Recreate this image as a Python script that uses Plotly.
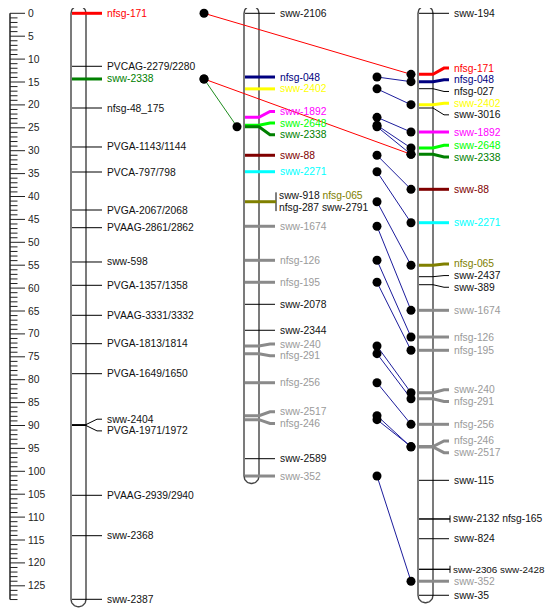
import numpy as np
import plotly.graph_objects as go

# ---------------- DATA (cM positions) ----------------
map1_markers = ["nfsg-171", "PVCAG-2279/2280", "sww-2338", "nfsg-48_175", "PVGA-1143/1144",
                "PVCA-797/798", "PVGA-2067/2068", "PVAAG-2861/2862", "sww-598", "PVGA-1357/1358",
                "PVAAG-3331/3332", "PVGA-1813/1814", "PVGA-1649/1650", "sww-2404", "PVGA-1971/1972",
                "PVAAG-2939/2940", "sww-2368", "sww-2387"]
map1_pos = [0.0, 11.57, 14.34, 20.68, 29.19, 34.65, 42.95, 46.81, 54.3, 59.39,
            65.94, 72.14, 78.69, 89.8, 90.0, 105.24, 114.06, 127.95]

map2_markers = ["sww-2106", "nfsg-048", "sww-2402", "sww-1892", "sww-2648", "sww-2338", "sww-88",
                "sww-2271", "sww-918", "nfsg-065", "nfsg-287", "sww-2791", "sww-1674", "nfsg-126",
                "nfsg-195", "sww-2078", "sww-2344", "sww-240", "nfsg-291", "nfsg-256", "sww-2517",
                "nfsg-246", "sww-2589", "sww-352"]
map2_pos = [0.0, 13.91, 16.5, 22.71, 24.45, 24.76, 31.0,
            34.59, 41.14, 41.14, 41.14, 41.14, 46.5, 53.93,
            58.73, 63.54, 69.21, 72.64, 74.32, 80.66, 87.86,
            88.73, 97.25, 101.03]

map3_markers = ["sww-194", "nfsg-171", "nfsg-048", "nfsg-027", "sww-2402", "sww-3016", "sww-1892",
                "sww-2648", "sww-2338", "sww-88", "sww-2271", "nfsg-065", "sww-2437", "sww-389",
                "sww-1674", "nfsg-126", "nfsg-195", "sww-240", "nfsg-291", "nfsg-256", "nfsg-246",
                "sww-2517", "sww-115", "sww-2132", "nfsg-165", "sww-824", "sww-2306", "sww-2428",
                "sww-352", "sww-35"]
map3_pos = [0.0, 13.32, 14.93, 16.46, 19.95, 20.68, 25.92,
            29.41, 30.79, 38.43, 45.72, 55.02, 57.51, 59.26,
            64.85, 70.68, 73.58, 82.84, 84.15, 89.74, 94.6,
            94.7, 101.97, 110.41, 110.41, 114.72, 121.4, 121.4,
            124.0, 127.07]

ruler_max = 128
ruler_major = 5

# ---------------- STYLE / LAYOUT ----------------
highlight = {
    "nfsg-171": "#FF0000", "sww-2338": "#008000", "nfsg-048": "#000080",
    "sww-2402": "#FFFF00", "sww-1892": "#FF00FF", "sww-2648": "#00FF00",
    "sww-88": "#800000", "sww-2271": "#00FFFF", "nfsg-065": "#808000",
}
shared_line = "#8a8a8a"
shared_text = "#9a9a9a"
K = 4.58          # px per cM
Y0 = 13.3         # page px of 0 cM
W, H = 553, 609   # page size
OFF = 8           # page body margin
RIGHT_LIMIT = 544 # last visible page px for text
chrom_left = [71, 244, 418]
chrom_w = 15
dot_right_off = 118
dot_left_off = -7
gap = 2.55        # label spacing in cM
FONT = "Liberation Sans, Arial, sans-serif"
FS = 10.3

# approximate Arial advance widths (em) for fitting text
CHAR_W = {"s": .5, "w": .722, "n": .556, "f": .278, "g": .556, "-": .333, " ": .278,
          "P": .667, "V": .667, "A": .667, "G": .778, "C": .722, "/": .278, "_": .556}


def text_width(t, size):
    return sum(CHAR_W.get(c, .556) for c in t) * size


maps = [(map1_markers, map1_pos), (map2_markers, map2_pos), (map3_markers, map3_pos)]

counts = {}
for names, _ in maps:
    for n in set(names):
        counts[n] = counts.get(n, 0) + 1


def style_of(name):
    if name in highlight:
        return highlight[name], 3, highlight[name]
    if counts[name] > 1:
        return shared_line, 3, shared_text
    return "#000000", 1, "#111111"


def place_labels(items):
    clusters = [[i] for i in range(len(items))]

    def lay(cl):
        total = sum(items[i]["rows"] for i in cl) * gap
        center = np.mean([items[i]["pos"] for i in cl])
        start = center - total / 2
        acc = start
        res = []
        for i in cl:
            h = items[i]["rows"] * gap
            res.append(acc + h / 2)
            acc += h
        return start, acc, res

    changed = True
    while changed:
        changed = False
        for k in range(len(clusters) - 1):
            s1, e1, _ = lay(clusters[k])
            s2, e2, _ = lay(clusters[k + 1])
            if s2 < e1 - 1e-9:
                clusters[k] = clusters[k] + clusters[k + 1]
                del clusters[k + 1]
                changed = True
                break
    out = [None] * len(items)
    for cl in clusters:
        _, _, res = lay(cl)
        for i, y in zip(cl, res):
            out[i] = y
    return out


fig = go.Figure()
annotations = []
line_groups = {}
thick_lines = []


def text_ann(x, y, text, color, plain=None):
    size = FS
    if plain is not None:
        wdt = text_width(plain, FS)
        if x + wdt > RIGHT_LIMIT:
            size = FS * (RIGHT_LIMIT - x) / wdt
    return dict(x=x, y=y, text=text, xanchor="left", yanchor="middle", showarrow=False,
                borderpad=0, borderwidth=0,
                font=dict(family=FONT, size=size, color=color))


def add_line(xs, ys, color, width):
    key = (color, width)
    g = line_groups.setdefault(key, ([], []))
    g[0].extend(list(xs) + [None])
    g[1].extend(list(ys) + [None])


def add_marker_line(xs, ys, color, width):
    if width > 1:
        thick_lines.append((xs, ys, color, width))
    else:
        add_line(xs, ys, color, width)


# ruler
add_line([10, 10], [0, ruler_max], "#222222", 1.5)
for v in range(0, ruler_max + 1):
    major = v % ruler_major == 0
    add_line([10, 25 if major else 17.5], [v, v], "#222222", 1)
    if major:
        annotations.append(text_ann(27.5, v, str(v), "#222222"))

# chromosome outlines
r = chrom_w / 2
for ci, (names, pos) in enumerate(maps):
    L = chrom_left[ci]
    cx = L + r
    top, bot = min(pos), max(pos)
    t1 = np.linspace(np.pi, 0, 30)
    t2 = np.linspace(0, np.pi, 30)
    xs = list(cx + r * np.cos(t1)) + list(cx + r * np.cos(t2))
    ys = list(top - r * np.sin(t1) / K) + list(bot + r * np.sin(t2) / K)
    xs.append(xs[0]); ys.append(ys[0])
    fig.add_trace(go.Scatter(x=xs, y=ys, mode="lines", line=dict(color="#444444", width=1.4),
                             hoverinfo="skip", showlegend=False))

# marker lines and labels
for ci, (names, pos) in enumerate(maps):
    L = chrom_left[ci]
    R = L + chrom_w
    order = sorted(range(len(names)), key=lambda i: pos[i])
    groups = []
    for i in order:
        if groups and abs(pos[groups[-1][0]] - pos[i]) < 1e-9:
            groups[-1].append(i)
        else:
            groups.append([i])
    items = []
    for g in groups:
        rows = 1 if len(g) == 1 else int(np.ceil(len(g) / 2))
        items.append(dict(pos=pos[g[0]], rows=rows, members=g))
    label_y = place_labels(items)
    for it, ly in zip(items, label_y):
        g = it["members"]
        y = it["pos"]
        if len(g) == 1:
            i = g[0]
            col, w, tcol = style_of(names[i])
            if abs(ly - y) < 1e-6:
                xs, ys = [L + 1, R + 16], [y, y]
            else:
                xs, ys = [L + 1, R, R + 11, R + 16], [y, y, ly, ly]
            add_marker_line(xs, ys, col, w)
            annotations.append(text_ann(R + 20.5, ly, names[i], tcol, names[i]))
        else:
            for i in g:
                col, w, tcol = style_of(names[i])
                add_marker_line([L + 1, R + 17], [y, y], col, w)
            half = it["rows"] * gap / 2 - 0.5
            add_line([R + 17, R + 17], [ly - half, ly + half], "#000000", 1)
            for rr in range(it["rows"]):
                mem = g[2 * rr: 2 * rr + 2]
                parts = []
                for i in mem:
                    col, w, tcol = style_of(names[i])
                    parts.append("<span style='color:%s'>%s</span>" % (tcol, names[i]))
                plain = " ".join(names[i] for i in mem)
                ry = ly - it["rows"] * gap / 2 + gap * (rr + 0.5)
                annotations.append(text_ann(R + 19.5, ry, " ".join(parts), "#111111", plain))

for key, (xs, ys) in line_groups.items():
    fig.add_trace(go.Scatter(x=xs, y=ys, mode="lines", line=dict(color=key[0], width=key[1]),
                             hoverinfo="skip", showlegend=False))
for xs, ys, col, w in thick_lines:
    fig.add_trace(go.Scatter(x=xs, y=ys, mode="lines", line=dict(color=col, width=w),
                             hoverinfo="skip", showlegend=False))

# connectors between maps
link_colors = {(0, 2): "#FF0000", (0, 1): "#1E8C1E", (1, 2): "#1C1C9C"}
dot_x, dot_y = [], []
for (a, b), col in link_colors.items():
    na, pa = maps[a]
    nb, pb = maps[b]
    xa = chrom_left[a] + chrom_w + dot_right_off
    xb = chrom_left[b] + dot_left_off
    lx, lyy = [], []
    for i, n in enumerate(na):
        if n in nb:
            j = nb.index(n)
            lx += [xa, xb, None]
            lyy += [pa[i], pb[j], None]
            dot_x += [xa, xb]
            dot_y += [pa[i], pb[j]]
    fig.add_trace(go.Scatter(x=lx, y=lyy, mode="lines", line=dict(color=col, width=1),
                             hoverinfo="skip", showlegend=False))
fig.add_trace(go.Scatter(x=dot_x, y=dot_y, mode="markers",
                         marker=dict(color="#000000", size=9, line=dict(width=0)),
                         hoverinfo="skip", showlegend=False))

# figure occupies page px [OFF, W] x [OFF, H]
fig.update_layout(
    width=W - OFF, height=H - OFF, margin=dict(l=0, r=0, t=0, b=0),
    paper_bgcolor="white", plot_bgcolor="white",
    xaxis=dict(range=[OFF, W], visible=False, fixedrange=True),
    yaxis=dict(range=[(H - Y0) / K, (OFF - Y0) / K], visible=False, fixedrange=True),
    annotations=annotations, showlegend=False,
)
fig.write_html("out.html")
